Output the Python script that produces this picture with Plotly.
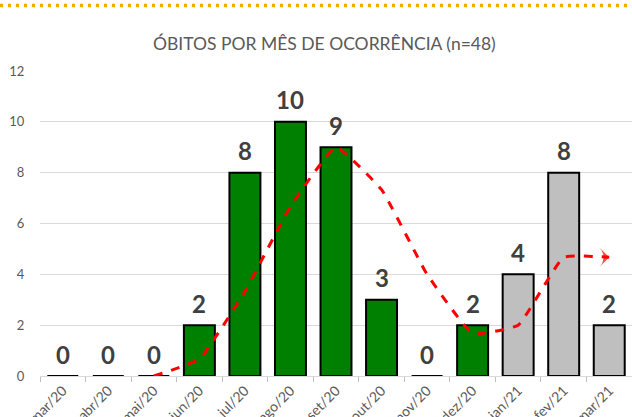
import plotly.graph_objects as go

months = ["mar/20", "abr/20", "mai/20", "jun/20", "jul/20", "ago/20", "set/20",
          "out/20", "nov/20", "dez/20", "jan/21", "fev/21", "mar/21"]
deaths = [0, 0, 0, 2, 8, 10, 9, 3, 0, 2, 4, 8, 2]
bar_colors = ["#008000"] * 10 + ["#BFBFBF"] * 3
trend_months = ["mai/20", "jun/20", "jul/20", "ago/20", "set/20", "out/20", "nov/20",
                "dez/20", "jan/21", "fev/21", "mar/21"]
trend_values = [0, 0.67, 3.33, 6.67, 9, 7.33, 4, 1.67, 2, 4.67, 4.67]

fig = go.Figure()
fig.add_trace(go.Bar(
    x=months, y=deaths,
    marker=dict(color=bar_colors, line=dict(color="#000000", width=2)),
    width=0.68, hoverinfo="skip",
))
n = len(trend_months)
fig.add_trace(go.Scatter(
    x=trend_months, y=trend_values,
    mode="lines+markers",
    line=dict(color="#FF0000", width=3, dash="dash", shape="spline", smoothing=0.35),
    marker=dict(
        symbol=["circle"] * (n - 1) + ["arrow-wide"],
        size=[7] + [0] * (n - 2) + [14],
        color="#FF0000",
        angleref="previous",
        line=dict(width=0),
    ),
    cliponaxis=False, hoverinfo="skip",
))

annotations = [dict(x=m, y=v, xref="x", yref="y", text=str(v), showarrow=False,
                    yanchor="middle", yshift=22,
                    font=dict(family="Lato", size=24, color="#404040", weight="bold"))
               for m, v in zip(months, deaths)]
annotations.append(dict(text="ÓBITOS POR MÊS DE OCORRÊNCIA (n=48)", xref="paper", yref="paper",
                        x=0.481, y=1 + (71 - 43) / 305, xanchor="center", yanchor="middle",
                        showarrow=False, font=dict(family="Lato", size=17.5, color="#595959")))

fig.update_layout(
    width=632, height=417,
    margin=dict(l=40, r=0, t=71, b=41, autoexpand=False),
    paper_bgcolor="white", plot_bgcolor="white",
    showlegend=False,
    font=dict(family="Lato", color="#595959"),
    annotations=annotations,
    xaxis=dict(
        type="category", tickangle=-45, tickson="boundaries", automargin=False,
        range=[-0.5, len(months) - 0.5],
        ticks="outside", ticklen=5, tickcolor="#BFBFBF",
        showline=True, linecolor="#D9D9D9", linewidth=1,
        showgrid=False, tickfont=dict(size=14, color="#595959"),
    ),
    yaxis=dict(
        range=[0, 12], dtick=2, showgrid=True, gridcolor="#D9D9D9", gridwidth=1,
        zeroline=False, showline=False, automargin=False,
        ticks="outside", ticklen=12, tickcolor="rgba(0,0,0,0)",
        tickfont=dict(size=13, color="#595959"),
    ),
    shapes=[dict(type="line", xref="paper", yref="paper", x0=-40 / 592, x1=1,
                 y0=1 + (71 - 5.5) / 305, y1=1 + (71 - 5.5) / 305, layer="above",
                 line=dict(color="#FFA500", width=3.3, dash="3px,5px"))],
)

fig.write_html("out.html", config={"displayModeBar": False},
               post_script="document.body.style.margin='0';document.body.style.overflow='hidden';")
